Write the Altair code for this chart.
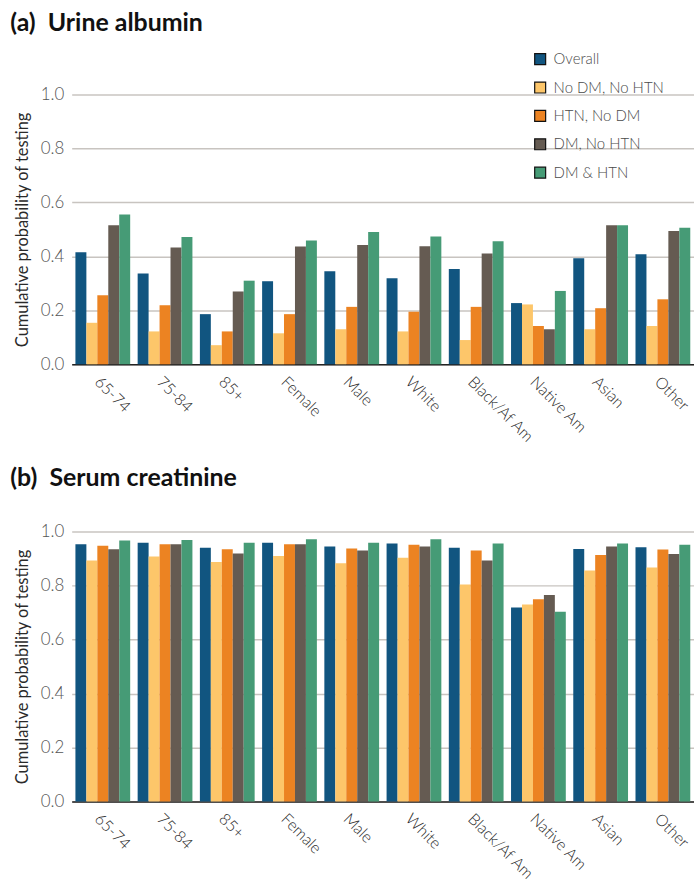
import altair as alt
import pandas as pd

# Population subgroups along the x axis
groups = ["65-74", "75-84", "85+", "Female", "Male", "White",
          "Black/Af Am", "Native Am", "Asian", "Other"]

# Comorbidity strata (legend order)
strata = ["Overall", "No DM, No HTN", "HTN, No DM", "DM, No HTN", "DM & HTN"]
colors = ["#115580", "#fdc66a", "#ec8322", "#655b52", "#469b76"]

# (a) Urine albumin: cumulative probability of testing
ua_overall = [0.415, 0.337, 0.186, 0.308, 0.345, 0.319, 0.353, 0.227, 0.393, 0.408]
ua_nodm_nohtn = [0.154, 0.122, 0.071, 0.115, 0.130, 0.122, 0.090, 0.222, 0.130, 0.142]
ua_htn_nodm = [0.256, 0.219, 0.122, 0.186, 0.213, 0.195, 0.213, 0.142, 0.208, 0.241]
ua_dm_nohtn = [0.515, 0.433, 0.270, 0.437, 0.442, 0.438, 0.411, 0.130, 0.515, 0.494]
ua_dm_htn = [0.555, 0.472, 0.310, 0.459, 0.490, 0.474, 0.456, 0.272, 0.515, 0.506]

# (b) Serum creatinine: cumulative probability of testing
sc_overall = [0.953, 0.959, 0.940, 0.959, 0.945, 0.956, 0.940, 0.719, 0.936, 0.942]
sc_nodm_nohtn = [0.893, 0.908, 0.887, 0.910, 0.883, 0.903, 0.804, 0.730, 0.856, 0.867]
sc_htn_nodm = [0.948, 0.953, 0.935, 0.953, 0.937, 0.951, 0.930, 0.749, 0.913, 0.934]
sc_dm_nohtn = [0.935, 0.953, 0.919, 0.953, 0.930, 0.945, 0.893, 0.765, 0.945, 0.917]
sc_dm_htn = [0.967, 0.969, 0.959, 0.972, 0.959, 0.972, 0.956, 0.703, 0.956, 0.951]


def long_table(series):
    rows = []
    for name, vals in zip(strata, series):
        for g, v in zip(groups, vals):
            rows.append({"group": g, "stratum": name, "prob": v})
    return pd.DataFrame(rows)


ua = long_table([ua_overall, ua_nodm_nohtn, ua_htn_nodm, ua_dm_nohtn, ua_dm_htn])
sc = long_table([sc_overall, sc_nodm_nohtn, sc_htn_nodm, sc_dm_nohtn, sc_dm_htn])

FONT = "Lato"


def panel(df, title, show_legend, title_offset):
    legend = None
    if show_legend:
        legend = alt.Legend(
            title=None, orient="none", legendX=463, legendY=-43,
            symbolType="square", symbolSize=121, symbolStrokeColor="#111111",
            symbolStrokeWidth=1.2, symbolOpacity=1,
            labelFont=FONT, labelFontSize=15, labelColor="#4a4a4a",
            labelFontWeight=300, rowPadding=11.5, labelOffset=6,
        )
    color = alt.Color("stratum:N", sort=strata,
                      scale=alt.Scale(domain=strata, range=colors),
                      legend=legend)
    return alt.Chart(df).mark_bar(opacity=1).encode(
        x=alt.X("group:N", sort=groups,
                scale=alt.Scale(paddingInner=0.12, paddingOuter=0.06),
                axis=alt.Axis(title=None, labelAngle=45, labelAlign="left",
                              labelBaseline="top", labelPadding=9, ticks=False,
                              labelFont=FONT, labelFontSize=16,
                              labelFontWeight=300, labelColor="#2a2a2a",
                              domainColor="#222222", domainWidth=1.5)),
        xOffset=alt.XOffset("stratum:N", sort=strata),
        y=alt.Y("prob:Q", scale=alt.Scale(domain=[0, 1]),
                axis=alt.Axis(title="Cumulative probability of testing",
                              values=[0, 0.2, 0.4, 0.6, 0.8, 1.0], format=".1f",
                              domain=False, ticks=False, labelPadding=8,
                              labelFont=FONT, labelFontSize=17,
                              labelFontWeight=300, labelColor="#555555",
                              titleFont=FONT, titleFontSize=16.5,
                              titleFontWeight="normal", titleColor="#2a2a2a",
                              titlePadding=10, gridColor="#c8c4c0",
                              gridWidth=1.5)),
        color=color,
    ).properties(
        width=625, height=271,
        title=alt.TitleParams(title, anchor="start", frame="bounds", dx=-4,
                              font=FONT, fontSize=25, fontWeight="bold",
                              color="#111111", offset=title_offset),
    )


top = panel(ua, "(a)\u00a0\u00a0Urine albumin", True, 50)
bottom = panel(sc, "(b)\u00a0\u00a0Serum creatinine", False, 32)

chart = alt.vconcat(top, bottom, spacing=21).resolve_scale(
    color="shared"
).configure(
    padding={"left": 10, "right": 0, "top": 9, "bottom": 0},
).configure_view(stroke=None)

chart.save("out.html", embed_options={"renderer": "svg", "actions": False})
